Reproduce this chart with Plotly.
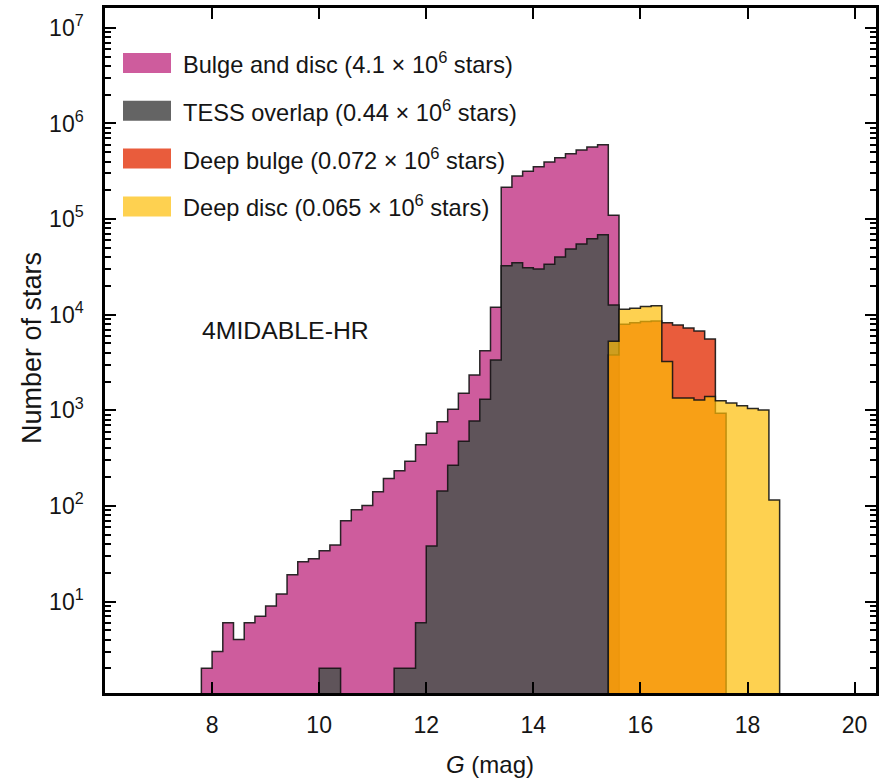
import numpy as np
import plotly.graph_objects as go

# ---------------- data (histograms, bin width 0.2 mag) ----------------
bin_width = 0.2

bulge_disc_start = 7.8
bulge_disc_counts = [2, 3, 6, 4, 6, 7, 9, 12, 19, 26, 28, 34, 39, 70, 91, 101, 141, 193,
                     233, 293, 437, 575, 760, 1024, 1506, 2340, 4200, 11950, 215000,
                     282000, 316000, 353000, 396000, 439000, 483000, 528000, 568000,
                     600000, 110000]

tess_start = 10.0
tess_counts = [2, 2, 0, 0, 0, 0, 1, 2, 2, 6, 38, 143, 266, 474, 773, 1303, 3360, 32600,
               35000, 31000, 30000, 33700, 40100, 48700, 54900, 62400, 68700, 12600]

deep_bulge_start = 15.4
deep_bulge_counts = [3790, 7960, 8230, 8480, 8600, 8230, 7820, 7280, 6770, 5570, 931]

deep_disc_start = 15.4
deep_disc_counts = [5260, 11400, 11700, 12200, 12400, 3230, 1342, 1342, 1280, 1397, 1257,
                    1190, 1114, 1045, 1010, 115]

series_names = ["Bulge and disc (4.1 × 10<sup>6</sup> stars)",
                "TESS overlap (0.44 × 10<sup>6</sup> stars)",
                "Deep bulge (0.072 × 10<sup>6</sup> stars)",
                "Deep disc (0.065 × 10<sup>6</sup> stars)"]

x_tickvals = [8, 10, 12, 14, 16, 18, 20]
y_tickvals = [1e1, 1e2, 1e3, 1e4, 1e5, 1e6, 1e7]
y_ticktext = ["10<sup>1</sup>", "10<sup>2</sup>", "10<sup>3</sup>", "10<sup>4</sup>",
              "10<sup>5</sup>", "10<sup>6</sup>", "10<sup>7</sup>"]

# ---------------- styles ----------------
fill_colors = ["rgb(206,92,157)", "rgba(83,83,83,0.9)",
               "rgba(229,63,26,0.85)", "rgba(254,189,5,0.7)"]
FONT = "Liberation Sans, Arial, sans-serif"
TXT = "#151515"
W, H = 879, 783
L, R, T, B = 105, 3, 8, 90
PW, PH = W - L - R, H - T - B


def step_outline(start, counts, floor=0.5):
    edges = np.round(start + bin_width * np.arange(len(counts) + 1), 3)
    ys = [c if c > 0 else floor for c in counts]
    x = [edges[0]] + list(edges[:-1]) + [edges[-1], edges[-1]]
    y = [floor] + ys + [ys[-1], floor]
    return x, y


fig = go.Figure()
for (start, counts), color, name in zip(
        [(bulge_disc_start, bulge_disc_counts), (tess_start, tess_counts),
         (deep_bulge_start, deep_bulge_counts), (deep_disc_start, deep_disc_counts)],
        fill_colors, series_names):
    xs, ys = step_outline(start, counts)
    fig.add_trace(go.Scatter(x=xs, y=ys, mode="lines", line_shape="hv",
                             line=dict(color="rgba(20,20,20,0.9)", width=1.5),
                             fill="toself", fillcolor=color, name=name,
                             showlegend=False, hoverinfo="skip"))


def px_x(p):
    return (p - L) / PW


def px_y(p):
    return (H - B - p) / PH


# custom legend (large swatches)
row_y = [63, 110.8, 158.6, 206.4]
shapes = []
annotations = []
for yc, color, name in zip(row_y, fill_colors, series_names):
    shapes.append(dict(type="rect", xref="paper", yref="paper",
                       x0=px_x(123), x1=px_x(171), y0=px_y(yc + 10), y1=px_y(yc - 10),
                       fillcolor=color, line=dict(width=0)))
    annotations.append(dict(xref="paper", yref="paper", x=px_x(181), y=px_y(yc),
                            xanchor="left", yanchor="middle", text=name, showarrow=False,
                            font=dict(family=FONT, size=23.6, color=TXT)))

annotations.append(dict(xref="paper", yref="paper", x=px_x(200), y=px_y(330),
                        xanchor="left", yanchor="middle", text="4MIDABLE-HR",
                        showarrow=False, font=dict(family=FONT, size=24.8, color=TXT)))

# axis titles
annotations.append(dict(xref="paper", yref="paper", x=px_x(490), y=px_y(764),
                        xanchor="center", yanchor="middle", text="<i>G</i> (mag)",
                        showarrow=False, font=dict(family=FONT, size=24, color=TXT)))
annotations.append(dict(xref="paper", yref="paper", x=px_x(32), y=px_y(348),
                        xanchor="center", yanchor="middle", text="Number of stars",
                        textangle=-90, showarrow=False,
                        font=dict(family=FONT, size=27, color=TXT)))

minor_vals = [m * 10 ** k for k in range(0, 8) for m in range(2, 10)]

fig.update_layout(
    width=W, height=H,
    margin=dict(l=L, r=R, t=T, b=B, autoexpand=False),
    plot_bgcolor="white", paper_bgcolor="white",
    shapes=shapes, annotations=annotations,
    font=dict(family=FONT, size=23, color=TXT),
    xaxis=dict(range=[6, 20.4], tickmode="array", tickvals=x_tickvals,
               ticks="inside", ticklen=11, tickwidth=2, tickcolor="black",
               showline=True, linewidth=2.5, linecolor="black", mirror="allticks",
               showgrid=False, zeroline=False, ticklabelstandoff=10),
    yaxis=dict(type="log", range=[0.043, 7.208], tickmode="array",
               tickvals=y_tickvals, ticktext=y_ticktext,
               ticks="inside", ticklen=11, tickwidth=2, tickcolor="black",
               minor=dict(ticks="inside", ticklen=6, tickwidth=1.5, tickcolor="black",
                          tickmode="array", tickvals=minor_vals, showgrid=False),
               showline=True, linewidth=2.5, linecolor="black", mirror="allticks",
               showgrid=False, zeroline=False, ticklabelstandoff=14),
)

fig.write_html("out.html")
